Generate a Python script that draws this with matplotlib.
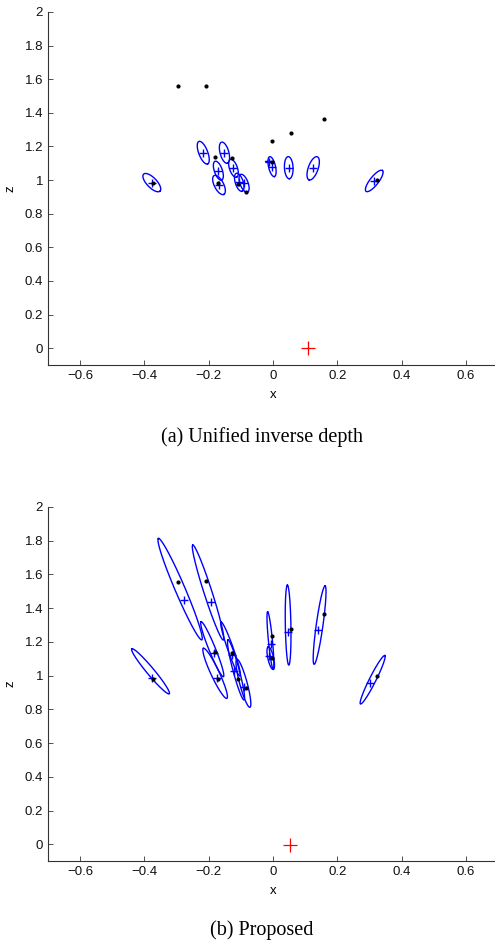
import numpy as np
import matplotlib
matplotlib.use("Agg")
import matplotlib.pyplot as plt

# ---------------- data ----------------
# true landmark positions (black dots)
true_x = [-0.295, -0.210, -0.003, 0.055, 0.159, -0.182, -0.128, -0.171, -0.108, -0.085, -0.373, 0.324, -0.004]
true_z = [1.558, 1.562, 1.234, 1.279, 1.363, 1.140, 1.133, 0.983, 0.978, 0.928, 0.982, 1.000, 1.107]

# (a) Unified inverse depth: estimates (+) and covariance ellipses
a_est_x = [-0.377, -0.217, -0.151, -0.170, -0.168, -0.123, -0.105, -0.090, -0.003, 0.049, 0.125, 0.315, -0.011]
a_est_z = [0.985, 1.163, 1.163, 1.056, 0.971, 1.070, 0.987, 0.981, 1.080, 1.074, 1.070, 0.995, 1.109]
a_ell_x = a_est_x
a_ell_z = a_est_z
a_major_dx = [0.0255, 0.0135, 0.0090, 0.0102, 0.0150, 0.0096, 0.0090, 0.0106, 0.0073, 0.0017, -0.0128, 0.0255, 0.0124]
a_major_dz = [-0.0505, -0.0670, -0.0627, -0.0560, -0.0560, -0.0530, -0.0536, -0.0530, -0.0591, -0.0658, -0.0688, 0.0620, -0.0010]
a_ratio = [0.42, 0.37, 0.40, 0.40, 0.44, 0.42, 0.42, 0.42, 0.34, 0.39, 0.40, 0.32, 0.12]
a_cam = (0.110, 0.0)

# (b) Proposed
b_est_x = [-0.277, -0.193, -0.183, -0.174, -0.375, -0.128, -0.120, -0.090, -0.006, -0.011, 0.048, 0.141, 0.302]
b_est_z = [1.448, 1.435, 1.136, 0.988, 0.984, 1.125, 1.025, 0.935, 1.186, 1.117, 1.258, 1.270, 0.959]
b_ell_x = [-0.289, -0.202, -0.189, -0.180, -0.381, -0.132, -0.115, -0.092, -0.008, -0.007, 0.047, 0.145, 0.310]
b_ell_z = [1.513, 1.493, 1.157, 1.014, 1.026, 1.158, 1.034, 0.955, 1.208, 1.104, 1.300, 1.300, 0.976]
b_major_dx = [-0.0675, -0.0476, -0.0348, -0.0364, -0.0584, -0.0295, -0.0249, -0.0202, -0.0087, -0.0078, -0.0022, 0.0171, 0.0379]
b_major_dz = [0.3005, 0.2816, 0.1630, 0.1482, 0.1334, 0.1600, 0.1778, 0.1423, 0.1707, 0.0670, 0.2371, 0.2324, 0.1435]
b_ratio = [0.09, 0.08, 0.11, 0.15, 0.125, 0.10, 0.10, 0.15, 0.07, 0.25, 0.07, 0.085, 0.12]
b_cam = (0.053, -0.006)

x_ticks = [-0.6, -0.4, -0.2, 0, 0.2, 0.4, 0.6]
x_tick_labels = ["\u22120.6", "\u22120.4", "\u22120.2", "0", "0.2", "0.4", "0.6"]
z_ticks = [0, 0.2, 0.4, 0.6, 0.8, 1, 1.2, 1.4, 1.6, 1.8, 2]
z_tick_labels = ["0", "0.2", "0.4", "0.6", "0.8", "1", "1.2", "1.4", "1.6", "1.8", "2"]
captions = ["(a) Unified inverse depth", "(b) Proposed"]

# ---------------- figure ----------------
W, H = 495, 942
fig = plt.figure(figsize=(W / 100, H / 100), dpi=100)
plt.rcParams['font.family'] = ['Liberation Sans', 'DejaVu Sans']

ax_a = fig.add_axes([48 / W, 1 - 365 / H, 450 / W, 353 / H])
ax_b = fig.add_axes([48 / W, 1 - 861.3 / H, 450 / W, 354.3 / H])

axis_col = '#333333'


def setup(ax):
    ax.set_xlim(-0.7, 0.7)
    ax.set_ylim(-0.1, 2.0)
    ax.set_xticks(x_ticks)
    ax.set_xticklabels(x_tick_labels)
    ax.set_yticks(z_ticks)
    ax.set_yticklabels(z_tick_labels)
    for s in ['top', 'right']:
        ax.spines[s].set_visible(False)
    for s in ['left', 'bottom']:
        ax.spines[s].set_color(axis_col)
        ax.spines[s].set_linewidth(0.8)
    ax.tick_params(direction='in', length=3.5, width=0.6, color=axis_col,
                   labelsize=9.5, labelcolor='#111111', pad=3.5)
    ax.set_xlabel('x', fontsize=9.5, labelpad=5)
    ax.set_ylabel('z', fontsize=9.5, labelpad=6)


def draw(ax, ex, ez, cx, cz, mdx, mdz, ratio, cam):
    setup(ax)
    t = np.linspace(0, 2 * np.pi, 200)
    T = ax.transData
    inv = T.inverted()
    for i in range(len(cx)):
        c = T.transform((cx[i], cz[i]))
        e = T.transform((cx[i] + mdx[i], cz[i] + mdz[i]))
        u = e - c
        v = np.array([-u[1], u[0]]) * ratio[i]
        pts = c[None, :] + np.cos(t)[:, None] * u[None, :] + np.sin(t)[:, None] * v[None, :]
        d = inv.transform(pts)
        ax.plot(d[:, 0], d[:, 1], color='#0000ff', lw=1.0, clip_on=False)
    ax.plot(ex, ez, ls='none', marker='+', ms=5.5, mew=1.0, color='#0000ff', clip_on=False)
    ax.plot(true_x, true_z, ls='none', marker='o', ms=2.0, color='black', clip_on=False)
    ax.plot([cam[0]], [cam[1]], ls='none', marker='+', ms=10, mew=0.9, color='#ff0000', clip_on=False)


draw(ax_a, a_est_x, a_est_z, a_ell_x, a_ell_z, a_major_dx, a_major_dz, a_ratio, a_cam)
draw(ax_b, b_est_x, b_est_z, b_ell_x, b_ell_z, b_major_dx, b_major_dz, b_ratio, b_cam)

fig.text(262 / W, 1 - 437 / H, captions[0], ha='center', va='center',
         fontsize=14.5, family=['Liberation Serif', 'DejaVu Serif'])
fig.text(262 / W, 1 - 930 / H, captions[1], ha='center', va='center',
         fontsize=14.5, family=['Liberation Serif', 'DejaVu Serif'])

fig.savefig('out.png', dpi=100, facecolor='white')
